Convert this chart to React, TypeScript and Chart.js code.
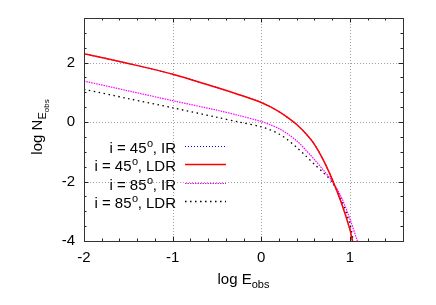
import React, { useEffect, useRef } from "react";
import { Chart, registerables } from "chart.js";

Chart.register(...registerables);

// log E_obs sample points for each curve
const xs45 = [-2, -1.5, -1, -0.5, -0.25, 0, 0.1, 0.2, 0.3, 0.4, 0.5, 0.6, 0.7, 0.8, 0.9, 1.0, 1.03];
const ir45 = [2.3, 1.97, 1.61, 1.16, 0.92, 0.66, 0.52, 0.35, 0.15, -0.08, -0.38, -0.75, -1.27, -1.92, -2.68, -3.6, -4.0];
const ldr45 = [2.3, 1.97, 1.61, 1.16, 0.92, 0.66, 0.52, 0.35, 0.15, -0.08, -0.38, -0.75, -1.27, -1.92, -2.68, -3.6, -4.0];

const xsIr85 = [-2, -1.5, -1, -0.5, -0.25, 0, 0.1, 0.2, 0.3, 0.4, 0.5, 0.6, 0.7, 0.8, 0.9, 1.0, 1.085];
const ir85 = [1.38, 1.05, 0.72, 0.4, 0.22, 0.02, -0.09, -0.22, -0.4, -0.63, -0.93, -1.26, -1.61, -1.99, -2.5, -3.25, -4.0];

const xsLdr85 = [-2, -1.5, -1, -0.5, -0.25, 0, 0.1, 0.2, 0.3, 0.4, 0.5, 0.6, 0.7, 0.8, 0.9, 1.0, 1.04];
const ldr85 = [1.1, 0.79, 0.48, 0.16, 0.0, -0.16, -0.26, -0.4, -0.6, -0.85, -1.13, -1.42, -1.7, -2.02, -2.58, -3.42, -4.0];

const xTicks = [-2, -1, 0, 1];
const yTicks = [-4, -2, 0, 2];

const legendLabels = [
  { pre: "i = 45", post: ", IR" },
  { pre: "i = 45", post: ", LDR" },
  { pre: "i = 85", post: ", IR" },
  { pre: "i = 85", post: ", LDR" },
];

const FONT = "'Liberation Sans', Arial, Helvetica, sans-serif";

const pts = (xs: number[], ys: number[]) => xs.map((x, i) => ({ x, y: ys[i] }));

export default function App() {
  const ref = useRef<HTMLCanvasElement | null>(null);

  useEffect(() => {
    document.body.style.margin = "0";
    const canvas = ref.current!;
    const legendStyles = [
      { color: "#0000ff", dash: [1, 2], width: 1.2 },
      { color: "#ff0000", dash: [], width: 1.5 },
      { color: "#ff00ff", dash: [1.5, 1], width: 1.2 },
      { color: "#000000", dash: [1.5, 3.5], width: 1.3 },
    ];

    const decor = {
      id: "decor",
      beforeDatasetsDraw(chart: any) {
        const { ctx, chartArea: a, scales } = chart;
        const xs = scales.x, ys = scales.y;
        ctx.save();
        ctx.strokeStyle = "#a0a0a0";
        ctx.lineWidth = 1;
        ctx.setLineDash([1, 2]);
        [-1, 0, 1].forEach((v) => {
          const px = Math.round(xs.getPixelForValue(v)) + 0.5;
          ctx.beginPath();
          ctx.moveTo(px, a.top);
          ctx.lineTo(px, a.bottom);
          ctx.stroke();
        });
        [-2, 0, 2].forEach((v) => {
          const py = Math.round(ys.getPixelForValue(v)) + 0.5;
          ctx.beginPath();
          ctx.moveTo(a.left, py);
          ctx.lineTo(a.right, py);
          ctx.stroke();
        });
        ctx.restore();
      },
      afterDraw(chart: any) {
        const { ctx, chartArea: a, scales } = chart;
        const xs = scales.x, ys = scales.y;
        ctx.save();
        ctx.setLineDash([]);
        ctx.strokeStyle = "#222";
        ctx.lineWidth = 1;
        for (let i = 0; i <= 18; i++) {
          const v = -2 + i * 0.2;
          const major = i % 5 === 0;
          const len = major ? 4.5 : 2.5;
          const px = Math.round(xs.getPixelForValue(v)) + 0.5;
          ctx.beginPath();
          ctx.moveTo(px, a.bottom);
          ctx.lineTo(px, a.bottom - len);
          ctx.moveTo(px, a.top);
          ctx.lineTo(px, a.top + len);
          ctx.stroke();
        }
        for (let i = 0; i <= 15; i++) {
          const v = -4 + i * 0.5;
          const major = i % 4 === 0;
          const len = major ? 4.5 : 2.5;
          const py = Math.round(ys.getPixelForValue(v)) + 0.5;
          ctx.beginPath();
          ctx.moveTo(a.left, py);
          ctx.lineTo(a.left + len, py);
          ctx.moveTo(a.right, py);
          ctx.lineTo(a.right - len, py);
          ctx.stroke();
        }
        ctx.strokeStyle = "#333";
        ctx.strokeRect(Math.round(a.left) + 0.5, Math.round(a.top) + 0.5, Math.round(a.right - a.left), Math.round(a.bottom - a.top));

        // legend
        ctx.fillStyle = "#000";
        ctx.textBaseline = "alphabetic";
        ctx.textAlign = "left";
        const rightEdge = 176;
        legendLabels.forEach((lab, i) => {
          const base = 153 + i * 18.3;
          ctx.font = `15px ${FONT}`;
          const w1 = ctx.measureText(lab.pre).width;
          const w3 = ctx.measureText(lab.post).width;
          ctx.font = `11px ${FONT}`;
          const w2 = ctx.measureText("o").width;
          const x0 = rightEdge - (w1 + w2 + w3);
          ctx.font = `15px ${FONT}`;
          ctx.fillText(lab.pre, x0, base);
          ctx.font = `11px ${FONT}`;
          ctx.fillText("o", x0 + w1 + 0.5, base - 6);
          ctx.font = `15px ${FONT}`;
          ctx.fillText(lab.post, x0 + w1 + w2, base);
          const st = legendStyles[i];
          ctx.strokeStyle = st.color;
          ctx.lineWidth = st.width;
          ctx.setLineDash(st.dash);
          ctx.beginPath();
          const ly = Math.round(base - 7) + 0.5;
          ctx.moveTo(185, ly);
          ctx.lineTo(226, ly);
          ctx.stroke();
          ctx.setLineDash([]);
        });

        // x-axis title
        ctx.fillStyle = "#000";
        ctx.font = `15px ${FONT}`;
        const tA = "log E";
        const wA = ctx.measureText(tA).width;
        ctx.font = `11px ${FONT}`;
        const wB = ctx.measureText("obs").width;
        const cx = (a.left + a.right) / 2;
        const sx = cx - (wA + wB) / 2;
        ctx.font = `15px ${FONT}`;
        ctx.fillText(tA, sx, 284);
        ctx.font = `11px ${FONT}`;
        ctx.fillText("obs", sx + wA, 288);

        // y-axis title
        ctx.save();
        ctx.translate(42, 127);
        ctx.rotate(-Math.PI / 2);
        ctx.font = `15px ${FONT}`;
        const tC = "log N";
        const wC = ctx.measureText(tC).width;
        ctx.font = `11px ${FONT}`;
        const wD = ctx.measureText("E").width;
        ctx.font = `8px ${FONT}`;
        const wE = ctx.measureText("obs").width;
        const sy = -(wC + wD + wE) / 2;
        ctx.font = `15px ${FONT}`;
        ctx.fillText(tC, sy, 0);
        ctx.font = `11px ${FONT}`;
        ctx.fillText("E", sy + wC, 4);
        ctx.font = `8px ${FONT}`;
        ctx.fillText("obs", sy + wC + wD, 7);
        ctx.restore();
        ctx.restore();
      },
    };

    const chart = new Chart(canvas, {
      type: "scatter",
      data: {
        datasets: [
          {
            label: "i = 45°, LDR",
            data: pts(xs45, ldr45),
            borderColor: "#ff0000",
            borderWidth: 1.5,
          },
          {
            label: "i = 45°, IR",
            data: pts(xs45, ir45),
            borderColor: "#0000ff",
            borderWidth: 1.2,
            borderDash: [1, 2],
          },
          {
            label: "i = 85°, IR",
            data: pts(xsIr85, ir85),
            borderColor: "#ff00ff",
            borderWidth: 1.2,
            borderDash: [1.5, 1],
          },
          {
            label: "i = 85°, LDR",
            data: pts(xsLdr85, ldr85),
            borderColor: "#000000",
            borderWidth: 1.3,
            borderDash: [1.5, 3.5],
          },
        ].map((d) => ({
          ...d,
          showLine: true,
          pointRadius: 0,
          fill: false,
          tension: 0.3,
        })),
      },
      options: {
        animation: false,
        responsive: false,
        layout: { padding: { top: 18, right: 33, left: 0, bottom: 0 } },
        plugins: { legend: { display: false }, tooltip: { enabled: false } },
        scales: {
          x: {
            type: "linear",
            min: -2,
            max: 1.6,
            afterFit: (s: any) => {
              s.height = 64;
            },
            afterBuildTicks: (s: any) => {
              s.ticks = xTicks.map((value) => ({ value }));
            },
            ticks: {
              font: { family: FONT, size: 15 },
              color: "#000",
              padding: 8,
              maxRotation: 0,
              callback: (v: any) => String(v),
            },
            grid: { display: false, drawTicks: false },
            border: { display: false },
          },
          y: {
            type: "linear",
            min: -4,
            max: 3.5,
            afterFit: (s: any) => {
              s.width = 84;
            },
            afterBuildTicks: (s: any) => {
              s.ticks = yTicks.map((value) => ({ value }));
            },
            ticks: {
              font: { family: FONT, size: 15 },
              color: "#000",
              padding: 9,
              callback: (v: any) => String(v),
            },
            grid: { display: false, drawTicks: false },
            border: { display: false },
          },
        },
      },
      plugins: [decor],
    } as any);

    return () => chart.destroy();
  }, []);

  return <canvas ref={ref} width={436} height={305} style={{ display: "block" }} />;
}
